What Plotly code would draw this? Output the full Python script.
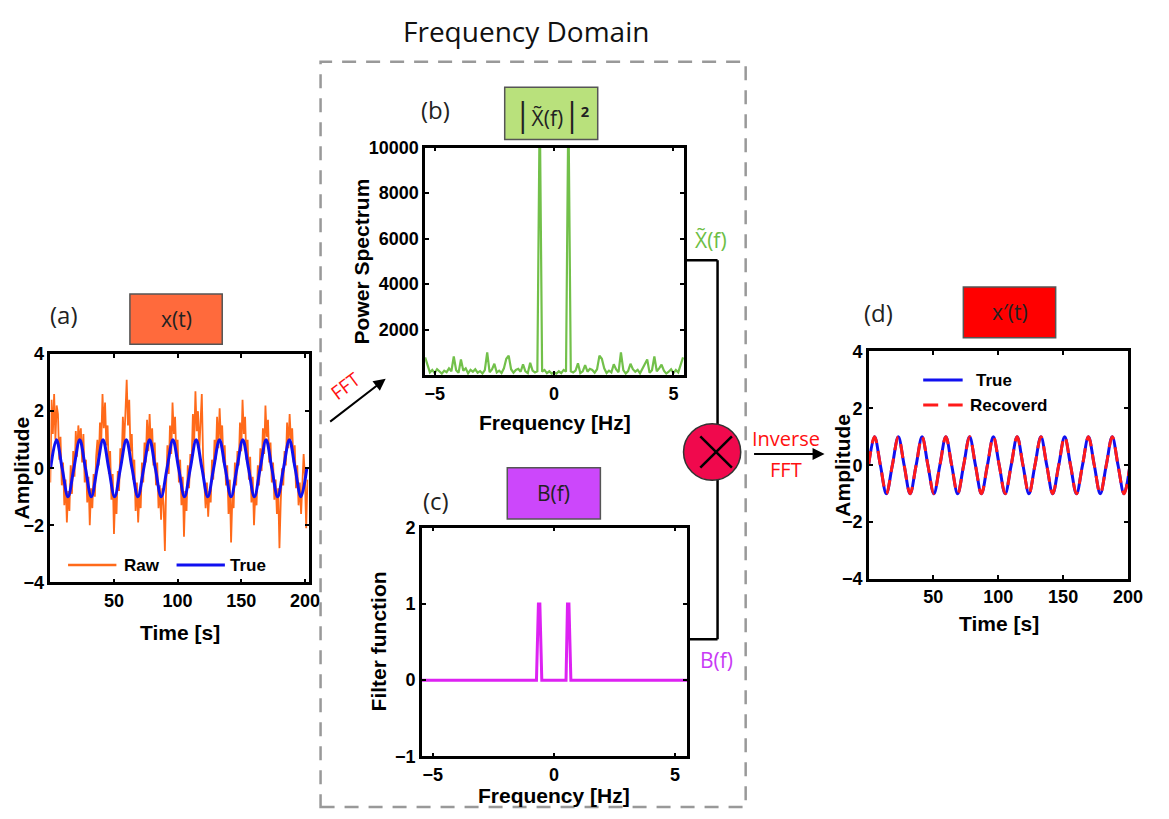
import numpy as np
import plotly.graph_objects as go

W, H = 1169, 819

# ---------------- data ----------------
raw_values = [
    -0.5, 2.4, 1.2, 2.6, 1.0, 2.2, 1.9, 0.3, 1.1, -0.6, 0.2, -1.3, -0.4, -1.9, -0.8, -1.5, 0.1, -0.9,
    0.6, -0.3, 1.3, 0.4, 1.5, 0.9, 1.4, 0.2, 1.2, -0.5, 0.3, -1.2, -0.3, -2.0, -0.7, -1.4, -0.2, -1.0, 0.4,
    1.0, 0.1, 1.6, 0.9, 2.6, 1.4, 2.3, 0.8, 1.5, -0.2, 0.6, -1.1, -0.2, -2.3, -0.9, -1.6, -0.1, -0.8,
    0.7, 0.2, 1.8, 0.8, 2.2, 3.1, 1.5, 2.4, 0.6, 1.2, -0.4, 0.3, -1.5, -0.5, -1.9, -0.9, -1.4, 0.2, -0.5,
    0.9, 0.2, 1.7, 0.6, 1.9, 0.8, 1.4, 0.1, 0.9, -0.6, 0.2, -1.4, -0.6, -1.8, -0.7, -1.3, -2.9, -0.6,
    0.8, -0.2, 1.5, 0.5, 2.3, 1.2, 1.8, 0.4, 1.0, -0.5, 0.3, -1.3, -0.3, -2.4, -0.8, -1.5, 0.1, -0.7, 0.5,
    0.2, 1.9, 0.9, 2.7, 1.3, 2.0, 0.6, 1.4, 2.6, 0.4, -0.3, -1.4, -0.5, -1.7, -0.8, -1.2, 0.3, -0.4,
    1.0, 0.3, 1.8, 0.7, 2.1, 1.0, 1.5, 0.2, 0.8, -0.6, 0.1, -1.6, -0.4, -2.6, -1.0, -1.4, 0.2, -0.6, 0.6,
    0.1, 1.6, 0.6, 2.4, 1.2, 1.8, 0.3, 1.0, -0.4, 0.4, -1.2, -0.3, -2.0, -0.9, -1.3, 0.1, -0.6, 0.7,
    -0.1, 1.4, 0.5, 2.2, 1.1, 1.7, 0.2, 0.9, -0.5, 0.2, -1.1, -0.4, -1.6, -0.7, -2.8, -1.2, 0.0, -0.6, 0.6,
    0.1, 1.6, 0.7, 1.9, 1.0, 1.4, 0.2, 0.8, -0.7, 0.1, -1.3, -0.5, -1.6, -0.6, 0.5, -0.3, -2.1, -0.4,
]
raw_time = list(range(len(raw_values)))

true_time = [0.2, 4.8, 9.3, 13.9, 18.5, 23.1, 27.6, 32.2, 36.8, 41.4, 45.9, 50.5, 55.1, 59.7, 64.2,
             68.8, 73.4, 78.0, 82.5, 87.1, 91.7, 96.3, 100.8, 105.4, 110.0, 114.6, 119.1, 123.7,
             128.3, 132.9, 137.4, 142.0, 146.6, 151.2, 155.7, 160.3, 164.9, 169.5, 174.0, 178.6,
             183.2, 187.8, 192.3, 196.9, 201.5]
true_values = [0, 1, 0, -1, 0, 1, 0, -1, 0, 1, 0, -1, 0, 1, 0, -1, 0, 1, 0, -1, 0, 1, 0, -1,
               0, 1, 0, -1, 0, 1, 0, -1, 0, 1, 0, -1, 0, 1, 0, -1, 0, 1, 0, -1, 0]
recovered_values = [0, 1, 0, -1, 0, 1, 0, -1, 0, 1, 0, -1, 0, 1, 0, -1, 0, 1, 0, -1, 0, 1, 0, -1,
                    0, 1, 0, -1, 0, 1, 0, -1, 0, 1, 0, -1, 0, 1, 0, -1, 0, 1, 0, -1, 0]

freq = np.round(np.linspace(-5.4, 5.4, 109), 2)
power = [780, 420, 120, 230, 90, 260, 150, 70, 200, 130, 300, 170, 820, 220, 100, 690, 190, 300,
         80, 230, 150, 260, 110, 180, 70, 220, 1000, 130, 250, 500, 120, 200, 90, 300, 720, 860,
         260, 110, 230, 280, 150, 470, 170, 90, 540, 200, 120, 170, 12000, 150, 230, 90, 170, 70,
         120, 70, 170, 90, 230, 150, 12000, 170, 120, 200, 520, 90, 170, 440, 150, 280, 230, 110,
         260, 860, 720, 300, 90, 200, 120, 480, 250, 130, 1000, 220, 70, 180, 500, 260, 150, 230,
         80, 300, 500, 690, 100, 220, 820, 170, 300, 460, 200, 70, 150, 260, 90, 230, 120, 420, 780]

filt_freq = [-5.45, -0.72, -0.64, -0.58, -0.50, 0.50, 0.56, 0.62, 0.70, 5.5]
filt_values = [0, 0, 1, 1, 0, 0, 1, 1, 0, 0]

amp_ticks = [-4, -2, 0, 2, 4]
time_ticks = [50, 100, 150, 200]
freq_ticks = [-5, 0, 5]
power_ticks = [2000, 4000, 6000, 8000, 10000]
power_ticklabels = ["2000", "4000", "6000", "8000", "10000"]
filter_ticks = [-1, 0, 1, 2]

# ---------------- helpers ----------------
def px(x):
    return x / W

def py(y):
    return 1 - y / H

AXF = "Liberation Sans, Arial"
TICKFONT = dict(family=AXF, size=18, color="black", weight="bold")
LABELFONT = "Open Sans, Noto Sans, sans-serif"

ORANGE = "#FF6A1A"
BLUE = "#1010F0"
RED = "#FF1A1A"

fig = go.Figure()

fig.add_trace(go.Scatter(x=raw_time, y=raw_values, mode="lines", name="Raw", showlegend=False,
                         line=dict(color=ORANGE, width=1.8), xaxis="x", yaxis="y"))
fig.add_trace(go.Scatter(x=true_time, y=true_values, mode="lines", name="True", showlegend=False,
                         line=dict(color=BLUE, width=3, shape="spline", smoothing=1.0),
                         xaxis="x", yaxis="y"))
fig.add_trace(go.Scatter(x=freq, y=power, mode="lines", showlegend=False,
                         line=dict(color="#72C04A", width=2.2), xaxis="x2", yaxis="y2"))
fig.add_trace(go.Scatter(x=filt_freq, y=filt_values, mode="lines", showlegend=False,
                         line=dict(color="#DD22F2", width=3), xaxis="x3", yaxis="y3"))
fig.add_trace(go.Scatter(x=true_time, y=true_values, mode="lines", name="True", showlegend=False,
                         line=dict(color=BLUE, width=3, shape="spline", smoothing=1.0),
                         xaxis="x4", yaxis="y4"))
fig.add_trace(go.Scatter(x=true_time, y=recovered_values, mode="lines", name="Recoverd", showlegend=False,
                         line=dict(color=RED, width=3, shape="spline", smoothing=1.0, dash="14px,8px"),
                         xaxis="x4", yaxis="y4"))

def axis_common(**kw):
    d = dict(showline=True, linecolor="black", linewidth=2.5, mirror="ticks", ticks="inside",
             ticklen=4, tickwidth=1.5, tickcolor="black", showgrid=False, zeroline=False,
             tickfont=TICKFONT)
    d.update(kw)
    return d

layout = dict(
    width=W, height=H, margin=dict(l=0, r=0, t=0, b=0),
    paper_bgcolor="white", plot_bgcolor="white", showlegend=False,
    xaxis=axis_common(domain=[px(50), px(312)], range=[0, 203], tickvals=time_ticks, anchor="y"),
    yaxis=axis_common(domain=[py(586.7), py(352.7)], range=[-4, 4], tickvals=amp_ticks, anchor="x"),
    xaxis2=axis_common(domain=[px(430), px(692.7)], range=[-5.4, 5.45], tickvals=freq_ticks, anchor="y2"),
    yaxis2=axis_common(domain=[py(374.3), py(141)], range=[0, 10000],
                       tickvals=power_ticks, ticktext=power_ticklabels, anchor="x2"),
    xaxis3=axis_common(domain=[px(426.7), px(695.7)], range=[-5.45, 5.5], tickvals=freq_ticks, anchor="y3"),
    yaxis3=axis_common(domain=[py(765), py(530.7)], range=[-1, 2], tickvals=filter_ticks, anchor="x3"),
    xaxis4=axis_common(domain=[px(880), px(1142.7)], range=[0.5, 200], tickvals=time_ticks, anchor="y4"),
    yaxis4=axis_common(domain=[py(583.3), py(350)], range=[-4, 4], tickvals=amp_ticks, anchor="x4"),
)
fig.update_layout(**layout)

shapes = []
annotations = []

def label(txt, x, y, size, color, family=LABELFONT, angle=0, weight="normal", xanchor="center"):
    annotations.append(dict(x=px(x), y=py(y), xref="paper", yref="paper", text=txt, showarrow=False,
                            xanchor=xanchor, yanchor="middle", textangle=angle,
                            font=dict(family=family, size=size, color=color, weight=weight)))

def seg(x0, y0, x1, y1, color="black", width=2.5, dash=None):
    line = dict(color=color, width=width)
    if dash:
        line["dash"] = dash
    shapes.append(dict(type="line", xref="paper", yref="paper", x0=px(x0), y0=py(y0), x1=px(x1), y1=py(y1),
                       line=line))

# Axis titles
for txt, x, y, ang in [("Time [s]", 181.7, 638.3, 0), ("Amplitude", 20.5, 469.7, -90),
                       ("Frequency [Hz]", 561.7, 423, 0), ("Power Spectrum", 365.7, 258, -90),
                       ("Frequency [Hz]", 561, 805, 0), ("Filter function", 383, 647.5, -90),
                       ("Time [s]", 1011.7, 629.3, 0), ("Amplitude", 853, 466.7, -90)]:
    label(txt, x, y, 21, "black", family=AXF, angle=ang, weight="bold")

# Legends (drawn as keys + text)
seg(68, 569, 117, 569, color=ORANGE, width=2.5)
label("Raw", 123, 569, 17, "black", family=AXF, weight="bold", xanchor="left")
seg(178, 569, 227, 569, color=BLUE, width=3)
label("True", 230, 569, 17, "black", family=AXF, weight="bold", xanchor="left")
seg(935, 379.3, 975, 379.3, color=BLUE, width=3)
label("True", 987, 379.3, 17, "black", family=AXF, weight="bold", xanchor="left")
seg(935, 405, 975, 405, color=RED, width=3, dash="15px,10px")
label("Recoverd", 980, 405, 17, "black", family=AXF, weight="bold", xanchor="left")

# Dashed frequency-domain frame
shapes.append(dict(type="rect", xref="paper", yref="paper", x0=px(324), x1=px(755), y0=py(817), y1=py(53),
                   line=dict(color="#999999", width=2.5, dash="14px,10px")))

# Labelled boxes
boxes = [
    (130.7, 224.3, 291, 342.7, "#FF6A3C", "x(t)"),
    (510.7, 605, 79.3, 132.7, "#B9E17C",
     "<span style='font-size:32px'>|</span>X\u0303(f)<span style='font-size:32px'>|</span><sup><b>2</b></sup>"),
    (513.3, 607.7, 469.3, 521.7, "#CC47FB", "B(f)"),
    (975.7, 1069.3, 284, 336, "#FF0000", "x\u2032(t)"),
]
for x0, x1, y0, y1, col, txt in boxes:
    shapes.append(dict(type="rect", xref="paper", yref="paper", x0=px(x0), x1=px(x1), y0=py(y1), y1=py(y0),
                       fillcolor=col, line=dict(color="#555555", width=1.5), layer="below"))
    label(txt, (x0 + x1) / 2, (y0 + y1) / 2, 21, "#222222")

for txt, x, y in [("(a)", 64, 312), ("(b)", 441, 102), ("(c)", 441, 503), ("(d)", 890, 310)]:
    label(txt, x, y, 24, "#222222")

label("Frequency Domain", 532, 22, 28, "#111111")
label("X\u0303(f)", 720, 236, 21, "#6DBE45")
label("B(f)", 725, 666, 21, "#C83AF5")

# Connectors
seg(693, 256.5, 726.5, 256.5)
seg(726.5, 256.5, 726.5, 426)
seg(726.5, 480, 726.5, 645)
seg(696, 645, 726.5, 645)

# Multiplication node
shapes.append(dict(type="circle", xref="paper", yref="paper", x0=px(692), x1=px(750), y0=py(482), y1=py(424),
                   fillcolor="#F0094D", line=dict(color="#333333", width=1.5)))
seg(709, 437, 741, 469)
seg(709, 469, 741, 437)

# Arrows
annotations.append(dict(x=px(390), y=py(378), xref="paper", yref="paper", ax=-57, ay=44, text="",
                        showarrow=True, arrowhead=2, arrowsize=1.2, arrowwidth=2, arrowcolor="black"))
annotations.append(dict(x=px(835), y=py(455), xref="paper", yref="paper", ax=-72, ay=0, text="",
                        showarrow=True, arrowhead=2, arrowsize=1.2, arrowwidth=2, arrowcolor="black"))
label("FFT", 349, 385, 19, "#FF1010", angle=-37)
label("Inverse", 796, 439, 20, "#FF1010")
label("FFT", 796, 471, 20, "#FF1010")

fig.update_layout(shapes=shapes, annotations=annotations)
fig.write_html("out.html")
